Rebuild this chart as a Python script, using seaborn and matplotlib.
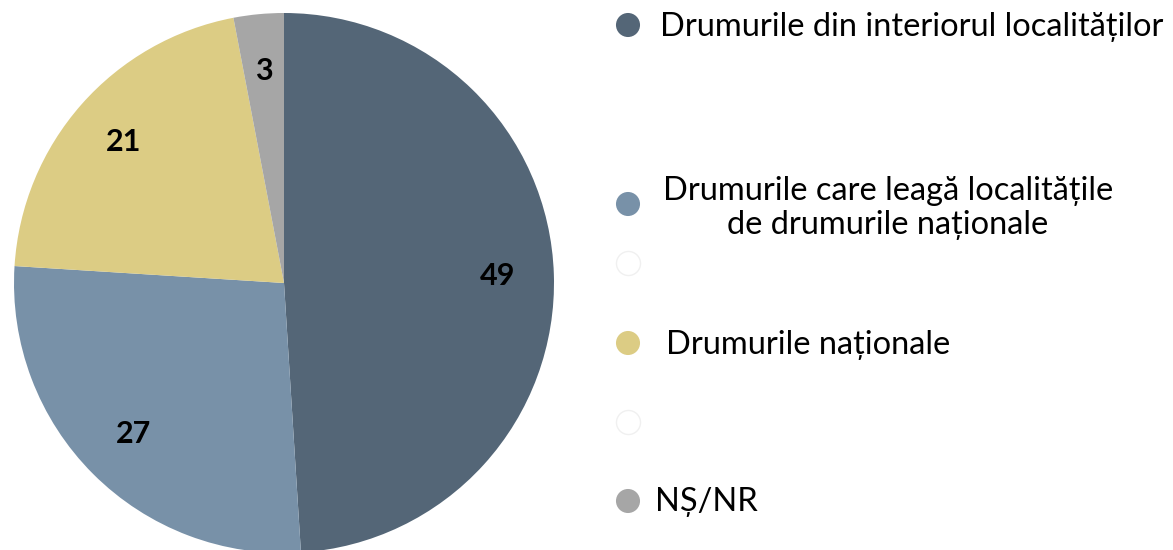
import matplotlib
matplotlib.use("Agg")
import matplotlib.pyplot as plt
import seaborn as sns

categories = [
    "Drumurile din interiorul localităților",
    "Drumurile care leagă localitățile\nde drumurile naționale",
    "Drumurile naționale",
    "NȘ/NR",
]
values = [49, 27, 21, 3]
colors = ["#546677", "#7891a8", "#dccc84", "#a6a6a6"]

sns.set_theme(style="white")
plt.rcParams["font.family"] = ["Lato", "DejaVu Sans"]

W, H = 1173, 550
fig = plt.figure(figsize=(W / 100, H / 100), dpi=100)

cx, cy, r = 284, 283, 270
ax = fig.add_axes([(cx - r) / W, (H - cy - r) / H, 2 * r / W, 2 * r / H])
wedges, texts, autotexts = ax.pie(
    values,
    colors=colors,
    startangle=90,
    counterclock=False,
    autopct=lambda p: f"{round(p * sum(values) / 100):d}",
    pctdistance=0.79,
    wedgeprops=dict(linewidth=0),
    textprops=dict(fontsize=22, fontweight="bold", color="black"),
)
ax.set_xlim(-1, 1)
ax.set_ylim(-1, 1)
ax.set_aspect("equal")
ax.axis("off")

# legend (manual layout)
lax = fig.add_axes([0, 0, 1, 1])
lax.set_xlim(0, W)
lax.set_ylim(H, 0)
lax.axis("off")
marker_x = 628
marker_y = [25, 204, 343, 501]
faint_y = [263, 422]
text_pos = [(660, 27, "left"), (888, 208, "center"), (666, 345, "left"), (655, 502, "left")]
for c, y in zip(colors, marker_y):
    lax.scatter([marker_x], [y], s=300, color=c, edgecolors="none")
for y in faint_y:
    lax.scatter([marker_x], [y], s=300, color="white", edgecolors="#f0f0f0", linewidths=1)
for (tx, ty, ha), lab in zip(text_pos, categories):
    lax.text(tx, ty, lab, ha=ha, va="center", fontsize=23.5, color="black",
             linespacing=1.15, multialignment="center")

fig.savefig("out.png", dpi=100)
